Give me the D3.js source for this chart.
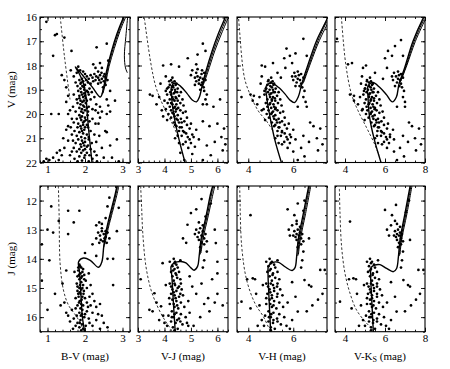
<!DOCTYPE html>
<html><head><meta charset="utf-8">
<script src="https://cdn.jsdelivr.net/npm/d3@7/dist/d3.min.js"></script>
<style>body{margin:0;background:#fff}svg{display:block}text{font-family:"Liberation Serif","DejaVu Serif",serif;fill:#000}</style>
</head><body>
<script>
// ---------- axis settings ----------
const colorDomains = [[0.8,3.2],[3,6.4],[3.5,7.5],[3.5,8]];
const colorTicks = [[1,2,3],[3,4,5,6],[4,6],[4,6,8]];
const colorMinorStep = [0.2,0.2,0.5,0.5];
const vDomain = [16,22], vTicks = [16,17,18,19,20,21,22];
const jDomain = [11.5,16.5], jTicks = [12,13,14,15,16];
const colorTitles = ["B-V (mag)","V-J (mag)","V-H (mag)","V-K_S (mag)"];
const magTitles = ["V (mag)","J (mag)"];

// ---------- top row: V vs colour ----------
const starsBV_V = [[0.97,16.2],[1.2,16.75],[1.25,16.7],[1.45,16.85],[1.15,17.6],[1.64,17.4],[2.31,17.25],[2.58,17.1],[2.62,17.8],[2.4,17.9],[2.22,17.95],[2.28,18.1],[2.35,18.25],[2.45,18.1],[1.82,18.05],[1.87,18.2],[1.95,18.25],[1.62,18.2],[1.38,18.4],[1.45,18.6],[1.5,18.9],[1.55,19.25],[1.5,19.5],[1.3,20.0],[1.1,20.0],[1.55,20.0],[1.6,19.85],[1.65,20.2],[1.55,20.5],[1.5,20.65],[1.42,21.0],[1.55,21.1],[1.45,21.4],[1.33,21.5],[1.25,21.6],[1.38,21.7],[1.15,21.8],[1.05,21.9],[0.97,21.85],[0.9,21.95],[1.3,21.9],
[2.67,19.05],[2.58,19.4],[2.8,19.45],[2.62,19.65],[2.45,19.9],[2.58,20.0],[2.67,19.9],[2.36,20.4],[2.54,20.7],[2.58,20.75],[2.85,21.05],[2.67,21.3],[2.45,21.4],[2.31,21.7],[2.5,21.8],[2.72,21.8],[2.9,21.95],[2.32,21.95],
[2.3,18.45],[2.35,18.5],[2.4,18.4],[2.45,18.55],[2.5,18.45],[2.55,18.5],[2.5,18.65],[2.42,18.7],[2.38,18.6],[2.55,18.8],[2.48,18.9],[2.52,18.35],[2.44,18.3],[2.6,18.6],[2.35,18.75],[2.28,18.6],[2.2,18.5],[2.25,18.35],[2.15,18.4],[2.1,18.55],[2.0,18.35],[2.05,18.45],
[1.85,18.6],[1.9,18.7],[1.95,18.65],[2.0,18.8],[2.08,18.7],[1.8,18.85],[1.88,18.95],[1.97,18.9],[2.12,18.95],[1.92,18.55],[2.15,18.75],[1.75,18.7],
[1.82,19.05],[1.9,19.1],[1.98,19.15],[2.05,19.05],[1.85,19.25],[1.95,19.3],[2.02,19.35],[2.1,19.2],[1.78,19.4],[1.88,19.45],[1.97,19.45],[2.15,19.4],[2.25,19.3],[1.7,19.2],
[1.8,19.55],[1.88,19.6],[1.95,19.65],[2.02,19.55],[2.1,19.7],[1.85,19.75],[1.92,19.8],[2.0,19.85],[2.08,19.9],[1.75,19.9],[1.95,19.95],[2.2,19.8],[2.3,19.6],[1.68,19.7],
[1.85,20.05],[1.92,20.1],[2.0,20.15],[2.07,20.05],[1.78,20.2],[1.9,20.25],[1.98,20.3],[2.12,20.3],[1.82,20.4],[1.95,20.45],[2.05,20.45],[2.2,20.2],[1.7,20.35],[2.28,20.4],
[1.8,20.55],[1.9,20.6],[1.98,20.65],[2.08,20.55],[1.72,20.7],[1.85,20.75],[1.95,20.8],[2.05,20.85],[2.15,20.7],[1.78,20.9],[1.9,20.95],[2.1,20.95],[2.25,20.85],[1.65,20.85],
[1.82,21.05],[1.92,21.1],[2.0,21.15],[2.1,21.05],[1.75,21.2],[1.88,21.25],[1.98,21.3],[2.08,21.3],[2.18,21.2],[1.7,21.4],[1.85,21.45],[2.0,21.45],[2.15,21.45],
[1.78,21.55],[1.9,21.6],[2.05,21.6],[2.12,21.7],[1.85,21.75],[1.98,21.8],[2.2,21.85],[1.72,21.85],[2.1,21.95],[1.6,21.7],[1.92,21.92],
[1.88,18.75],[1.93,18.85],[2.03,18.6],[1.98,19.0],[2.08,19.1],[1.92,19.2],[2.0,19.25],[1.85,19.35],[1.93,19.5],[2.05,19.45],[1.98,19.7],[1.9,19.9],[2.05,19.75],[1.88,20.15],[1.95,20.35],[2.02,20.25],[1.88,20.5],[2.0,20.55],[1.92,20.7],[2.0,21.0],[1.95,21.2],[1.9,21.35],[2.05,21.35],[1.95,21.5],[2.0,21.7],[1.8,21.95],[2.25,21.55],[2.3,21.15],[2.38,20.9],[2.4,20.15],[2.35,19.95],[1.62,20.55],[1.68,21.1],[1.65,21.55],[2.18,19.1],[2.22,18.65],[1.7,18.45],[1.78,18.3],[2.28,19.85],[2.4,19.7]];
const isoBV_V = [[2.19,22.05],[2.12,21.0],[2.06,20.0],[2.02,19.2],[1.95,18.7],[1.85,18.35],[1.74,18.06],[1.8,18.15],[2.0,18.52],[2.2,18.9],[2.41,19.3],[2.5,18.9],[2.57,18.26],[2.7,17.45],[2.85,16.7],[3.03,16.0],[3.06,15.9]];
const rgbBV_V = [[[2.45,19.2],[2.53,18.7],[2.61,18.1],[2.74,17.35],[2.9,16.6],[3.06,15.95]],[[2.48,19.15],[2.56,18.65],[2.64,18.05],[2.78,17.3],[2.94,16.55],[3.1,15.95]],[[3.14,15.95],[3.09,16.8],[3.05,17.6],[3.08,18.1],[3.13,18.3]]];
const dashBV_V = [[1.34,16.0],[1.45,17.6],[1.6,19.4]];

const starsVJ_V = [[3.95,18.0],[4.25,17.95],[4.55,18.05],[4.88,17.7],[5.25,17.55],[5.45,17.1],[5.55,17.4],[5.2,17.95],[5.05,18.2],[5.0,18.4],[5.15,18.5],
[5.2,18.3],[5.25,18.45],[5.3,18.6],[5.35,18.5],[5.4,18.35],[5.45,18.55],[5.3,18.75],[5.38,18.8],[5.42,18.7],[5.48,18.9],[5.5,19.05],[5.35,19.0],[5.2,18.65],[5.15,18.8],[5.55,18.6],[5.5,18.3],[5.6,19.2],[5.55,19.4],[5.45,19.6],[5.25,18.15],[5.42,18.2],
[4.25,18.6],[4.3,18.7],[4.38,18.65],[4.2,18.8],[4.32,18.85],[4.42,18.8],[4.15,18.9],[4.28,19.0],[4.4,19.0],[4.5,18.95],[4.22,19.1],[4.35,19.15],[4.48,19.1],[4.1,19.2],[4.3,19.3],[4.42,19.3],[4.55,19.25],[4.2,19.4],[4.38,19.45],[4.5,19.45],[4.12,19.55],[4.3,19.6],[4.45,19.6],[4.6,19.55],[4.2,19.7],[4.35,19.75],[4.52,19.75],[4.05,19.8],[4.25,19.85],[4.42,19.9],[4.6,19.85],[4.15,20.0],[4.35,20.0],[4.5,20.05],[4.7,19.95],[4.25,20.15],[4.45,20.2],[4.62,20.2],[4.1,20.25],[4.35,20.35],[4.55,20.35],[4.75,20.3],[4.45,20.5],[4.65,20.55],[4.85,20.45],[4.55,20.7],[4.75,20.75],[4.95,20.6],[4.65,20.9],[4.88,20.95],[5.05,20.85],[4.8,21.15],[5.0,21.2],[4.9,21.4],[5.15,21.35],[4.6,21.6],[5.05,21.65],[4.75,21.9],[5.45,21.9],
[3.45,19.2],[3.55,19.25],[3.8,19.3],[3.7,19.6],[3.9,19.85],[3.95,20.1],[4.0,19.45],[3.85,18.75],[4.05,18.45],
[5.6,19.6],[5.85,19.7],[6.1,19.4],[5.7,20.5],[6.0,20.4],[6.25,20.6],[5.2,20.65],[5.45,20.3],[6.15,20.95],[5.9,21.15],[6.3,21.25],[5.6,21.3],[6.2,21.5],[5.75,21.7],
[4.33,18.9],[4.45,18.75],[4.25,19.2],[4.4,19.1],[4.33,19.4],[4.45,19.35],[4.25,19.55],[4.4,19.7],[4.3,19.95],[4.45,19.8],[4.38,20.1],[4.5,20.25],[4.4,20.45],[4.58,20.55],[4.65,20.35],[4.7,20.7],[4.5,20.9],[4.82,20.8],[4.7,21.25],[4.95,21.05],[4.3,18.5],[4.18,18.65],[4.1,18.95],[4.05,19.05],[4.62,19.1],[4.68,19.4],[4.72,19.65],[4.8,19.9],[4.85,20.15],[5.0,20.4],[5.1,20.95],[5.3,21.05],[4.4,21.0],[4.55,21.2]];
const isoVJ_V = [[4.79,22.05],[4.56,21.1],[4.37,20.14],[4.27,19.3],[4.27,18.85],[4.4,18.72],[4.6,18.85],[4.85,19.15],[5.05,19.42],[5.21,19.5],[5.32,19.3],[5.4,18.95],[5.55,18.3],[5.8,17.4],[6.03,16.7],[6.28,16.05],[6.32,15.9]];
const rgbVJ_V = [[[5.42,18.9],[5.59,18.3],[5.85,17.4],[6.09,16.7],[6.34,16.05]],[[5.45,18.85],[5.63,18.3],[5.9,17.4],[6.15,16.7],[6.4,16.05]]];
const dashVJ_V = [[3.24,16.05],[3.49,17.94],[3.68,18.9],[3.93,19.6],[4.31,20.43],[4.5,20.9]];

const starsVH_V = [[4.6,18.0],[4.75,18.05],[5.1,17.9],[5.3,18.3],[5.6,17.7],[5.7,17.3],[5.85,17.6],[5.95,17.9],[6.1,17.5],[6.45,16.9],[6.6,17.6],[5.65,18.1],[5.45,18.5],
[6.05,18.3],[6.1,18.45],[6.2,18.55],[6.25,18.4],[6.3,18.6],[6.15,18.7],[6.35,18.75],[6.4,18.9],[6.28,18.85],[6.45,18.5],[6.0,18.6],[6.5,19.05],[6.45,19.3],[6.55,19.5],[6.2,18.25],[6.35,18.35],[5.95,18.45],[6.1,18.85],
[4.9,18.6],[5.0,18.7],[5.08,18.65],[4.85,18.8],[4.98,18.85],[5.12,18.8],[4.8,18.95],[4.95,19.0],[5.1,19.0],[5.22,18.95],[4.88,19.1],[5.02,19.15],[5.18,19.1],[4.72,19.2],[4.97,19.3],[5.1,19.3],[5.28,19.25],[4.85,19.4],[5.05,19.45],[5.2,19.45],[4.78,19.55],[4.95,19.6],[5.12,19.6],[5.32,19.55],[4.85,19.7],[5.02,19.75],[5.22,19.75],[4.68,19.8],[4.9,19.85],[5.1,19.9],[5.3,19.85],[4.82,20.0],[5.02,20.0],[5.2,20.05],[5.42,19.95],[4.92,20.15],[5.15,20.2],[5.35,20.2],[4.75,20.25],[5.05,20.35],[5.28,20.35],[5.5,20.3],[5.15,20.5],[5.38,20.55],[5.62,20.45],[5.3,20.7],[5.5,20.75],[5.72,20.6],[5.45,20.9],[5.7,20.95],[5.85,20.85],[5.6,21.15],[5.85,21.2],[5.75,21.4],
[4.1,19.2],[4.25,19.25],[4.5,19.3],[4.4,19.6],[4.6,19.85],[4.2,19.45],[4.55,18.75],[4.6,18.45],[3.7,19.3],
[6.2,19.7],[6.6,19.7],[6.75,20.35],[6.9,20.5],[7.2,20.6],[6.0,20.65],[6.45,20.9],[7.05,21.0],[6.7,21.15],[7.3,21.25],[6.35,21.4],[7.1,21.5],[6.5,21.75],[6.2,21.9],[6.0,21.55],
[5.05,18.9],[5.15,18.75],[4.95,19.2],[5.12,19.1],[5.05,19.4],[5.18,19.35],[4.98,19.55],[5.15,19.7],[5.05,19.95],[5.2,19.8],[5.12,20.1],[5.25,20.25],[5.2,20.45],[5.35,20.55],[5.4,20.35],[5.5,20.7],[5.3,20.9],[5.62,20.8],[5.5,21.25],[5.75,21.05],[5.02,18.5],[4.88,18.65],[4.78,18.95],[4.72,19.05],[5.35,19.1],[5.42,19.4],[5.48,19.65],[5.55,19.9],[5.62,20.15],[5.8,20.4],[5.9,20.95],[6.1,21.05],[5.2,21.0],[5.35,21.2]];
const isoVH_V = [[5.49,22.05],[5.19,21.1],[4.97,20.14],[4.82,19.3],[4.8,18.85],[5.04,18.72],[5.34,18.9],[5.63,19.17],[5.85,19.42],[6.05,19.53],[6.22,19.3],[6.38,18.76],[6.67,17.93],[7.04,16.97],[7.4,16.28],[7.55,16.0]];
const rgbVH_V = [[[6.42,18.76],[6.72,17.93],[7.1,16.97],[7.48,16.2]],[[6.46,18.7],[6.77,17.9],[7.16,16.97],[7.54,16.25]]];
const dashVH_V = [[3.56,15.9],[3.6,16.4],[3.83,18.5],[4.08,19.19],[4.45,19.88],[4.82,20.3],[5.1,20.7]];

const starsVK_V = [[4.15,17.95],[4.9,18.1],[5.05,18.0],[5.5,18.3],[6.0,17.7],[6.15,17.4],[6.35,17.6],[6.5,17.2],[6.8,16.95],[6.9,17.6],[6.1,18.1],[5.9,18.55],[4.35,17.9],[3.6,16.9],
[6.45,18.3],[6.55,18.45],[6.65,18.55],[6.7,18.4],[6.75,18.6],[6.6,18.7],[6.8,18.75],[6.85,18.9],[6.72,18.85],[6.9,18.5],[6.4,18.6],[6.95,19.05],[6.9,19.3],[7.0,19.5],[6.65,18.25],[6.8,18.35],[6.35,18.45],[6.5,18.85],
[5.1,18.6],[5.2,18.7],[5.3,18.65],[5.05,18.8],[5.2,18.85],[5.35,18.8],[5.0,18.95],[5.15,19.0],[5.32,19.0],[5.45,18.95],[5.08,19.1],[5.25,19.15],[5.42,19.1],[4.92,19.2],[5.2,19.3],[5.35,19.3],[5.55,19.25],[5.05,19.4],[5.28,19.45],[5.45,19.45],[4.98,19.55],[5.18,19.6],[5.38,19.6],[5.6,19.55],[5.08,19.7],[5.28,19.75],[5.5,19.75],[4.88,19.8],[5.12,19.85],[5.35,19.9],[5.58,19.85],[5.05,20.0],[5.28,20.0],[5.48,20.05],[5.72,19.95],[5.18,20.15],[5.42,20.2],[5.65,20.2],[4.98,20.25],[5.32,20.35],[5.58,20.35],[5.82,20.3],[5.45,20.5],[5.7,20.55],[5.95,20.45],[5.62,20.7],[5.85,20.75],[6.1,20.6],[5.8,20.9],[6.05,20.95],[6.25,20.85],[5.95,21.15],[6.2,21.2],[6.1,21.4],
[4.25,19.2],[4.45,19.25],[4.75,19.3],[4.65,19.6],[4.85,19.85],[4.45,19.45],[4.8,18.75],[4.85,18.45],
[6.6,19.7],[7.0,19.7],[7.2,20.35],[7.35,20.5],[7.7,20.6],[6.4,20.65],[6.9,20.9],[7.5,21.0],[7.15,21.15],[7.8,21.25],[6.75,21.4],[7.55,21.5],[6.95,21.75],[6.6,21.9],[6.45,21.55],
[5.28,18.9],[5.4,18.75],[5.2,19.2],[5.38,19.1],[5.3,19.4],[5.45,19.35],[5.22,19.55],[5.42,19.7],[5.3,19.95],[5.48,19.8],[5.38,20.1],[5.55,20.25],[5.5,20.45],[5.65,20.55],[5.7,20.35],[5.8,20.7],[5.6,20.9],[5.95,20.8],[5.85,21.25],[6.1,21.05],[5.25,18.5],[5.1,18.65],[5.0,18.95],[4.95,19.05],[5.65,19.1],[5.72,19.4],[5.78,19.65],[5.88,19.9],[5.95,20.15],[6.15,20.4],[6.25,20.95],[6.45,21.05],[5.5,21.0],[5.65,21.2]];
const isoVK_V = [[5.82,22.05],[5.48,21.1],[5.23,20.14],[5.15,19.3],[5.15,18.85],[5.4,18.7],[5.73,18.9],[6.07,19.2],[6.37,19.5],[6.57,19.3],[6.7,18.76],[6.98,18.1],[7.4,17.0],[7.88,16.1],[7.98,15.95]];
const rgbVK_V = [[[6.75,18.7],[7.04,18.05],[7.46,17.0],[7.94,16.1]],[[6.79,18.65],[7.09,18.0],[7.52,17.0],[8.0,16.12]]];
const dashVK_V = [[3.82,16.0],[4.03,17.9],[4.32,19.17],[4.65,19.86],[5.07,20.55],[5.48,21.24],[5.7,21.7]];

// ---------- bottom row: J vs colour ----------
const starsBV_J = [[1.1,12.2],[1.55,12.35],[1.3,12.7],[1.0,13.0],[1.15,13.1],[1.7,12.75],[0.85,13.5],[1.05,14.05],[1.55,13.15],[1.85,12.35],[2.0,13.8],[2.3,13.9],[2.2,13.5],[2.3,12.85],[2.38,12.75],[2.45,12.8],[2.55,12.6],[2.6,12.2],[2.65,11.9],[2.9,12.25],[2.85,13.05],[2.65,13.3],[2.75,14.0],[2.75,14.9],[2.6,14.0],
[2.35,13.1],[2.4,13.2],[2.45,13.05],[2.5,13.15],[2.55,13.25],[2.42,13.35],[2.48,13.4],[2.55,13.05],[2.38,13.45],[2.3,13.3],[2.6,13.1],[2.52,13.3],[2.45,12.95],[2.58,13.45],
[1.85,14.2],[1.9,14.3],[1.82,14.4],[1.95,14.35],[1.88,14.5],[1.8,14.6],[1.92,14.6],[1.98,14.55],[1.85,14.7],[1.9,14.8],[1.78,14.85],[1.95,14.9],[2.02,14.75],[1.85,15.0],[1.9,15.05],[1.8,15.1],[1.97,15.1],[2.05,15.0],[1.88,15.2],[1.83,15.3],[1.93,15.3],[2.0,15.35],[1.86,15.45],[1.9,15.55],[1.8,15.6],[1.95,15.6],[2.05,15.5],[1.88,15.7],[1.85,15.85],[1.92,15.9],[1.78,15.95],[1.98,16.0],[1.88,16.1],[1.92,16.25],[1.85,16.35],[1.95,16.4],
[2.1,14.5],[2.15,14.9],[2.2,15.2],[2.25,15.45],[2.15,15.6],[2.3,15.65],[2.4,15.55],[2.2,15.85],[2.35,15.9],[2.45,15.95],[2.1,16.05],[2.3,16.1],[2.5,16.2],[2.2,16.3],[2.6,16.35],[2.05,15.8],[2.12,16.2],[2.4,16.4],
[1.2,15.2],[1.0,15.75],[1.35,15.6],[1.45,15.5],[1.5,15.85],[1.55,15.95],[1.65,15.75],[1.6,16.15],[1.7,16.05],[1.75,16.3],[1.68,16.4],[1.4,14.85],[1.5,14.4],[1.72,14.45],[1.75,15.35],[0.85,14.75],
[1.87,14.25],[1.93,14.45],[1.84,14.55],[1.9,14.65],[1.87,14.9],[1.93,15.0],[1.86,15.15],[1.91,15.4],[1.84,15.5],[1.93,15.75],[1.89,15.95],[1.86,16.2],[1.9,16.45],[1.82,15.2],[1.96,15.2],[1.8,14.95],[1.98,14.7],[1.82,14.3],[2.0,15.9],[2.02,16.3],[1.8,16.2],[1.75,15.7],[2.08,15.65],[2.12,15.3]];
const isoBV_J = [[2.0,16.55],[1.93,16.0],[1.89,15.2],[1.85,14.4],[1.83,14.1],[1.96,13.97],[2.14,14.05],[2.36,14.29],[2.45,14.1],[2.5,13.58],[2.57,13.01],[2.63,12.67],[2.81,11.75],[2.86,11.45]];
const rgbBV_J = [[[2.5,13.6],[2.59,13.0],[2.66,12.65],[2.83,11.75],[2.88,11.45]],[[2.53,13.5],[2.62,12.95],[2.69,12.6],[2.86,11.75],[2.91,11.45]]];
const dashBV_J = [[1.29,11.5],[1.31,12.5],[1.336,14.15],[1.425,15.07],[1.56,15.59],[1.78,15.99],[1.92,16.33],[1.98,16.5]];

const starsVJ_J = [[4.87,12.83],[5.0,12.43],[5.2,12.3],[5.94,13.46],[4.7,13.3],[4.82,13.45],[5.75,12.1],[5.55,12.55],[5.9,13.0],[5.4,11.95],[6.0,14.1],
[5.2,13.0],[5.3,13.1],[5.35,12.95],[5.4,13.2],[5.45,13.05],[5.5,13.3],[5.3,13.35],[5.4,13.45],[5.55,13.15],[5.25,13.25],[5.45,12.85],[5.5,13.5],[5.35,13.6],[5.6,13.4],[5.15,13.15],[5.6,13.75],[5.5,14.05],[5.45,14.3],[5.3,12.75],
[4.35,14.0],[4.4,14.1],[4.45,14.2],[4.3,14.25],[4.5,14.3],[4.38,14.35],[4.25,14.45],[4.42,14.5],[4.55,14.45],[4.3,14.6],[4.48,14.65],[4.35,14.75],[4.6,14.7],[4.2,14.85],[4.4,14.9],[4.55,14.95],[4.3,15.05],[4.45,15.1],[4.65,15.05],[4.25,15.2],[4.38,15.25],[4.55,15.3],[4.7,15.25],[4.3,15.4],[4.45,15.45],[4.62,15.5],[4.2,15.55],[4.38,15.65],[4.52,15.7],[4.75,15.65],[4.28,15.8],[4.45,15.85],[4.62,15.9],[4.15,15.95],[4.35,16.0],[4.55,16.05],[4.8,16.0],[4.25,16.15],[4.42,16.2],[4.68,16.25],[4.32,16.35],[4.5,16.4],[4.9,16.3],[4.1,16.3],[4.6,14.05],[4.2,14.1],
[3.43,15.75],[3.62,15.18],[3.87,15.63],[3.93,14.15],[3.7,15.5],[3.95,15.95],[4.0,16.2],[3.8,16.1],[3.55,15.8],[3.1,14.7],[4.05,14.9],
[4.95,14.6],[5.05,14.95],[5.4,14.85],[5.8,14.7],[6.0,14.5],[6.0,15.2],[5.65,15.35],[5.5,15.55],[5.35,16.0],[5.7,15.8],[4.95,15.85],[4.85,16.2],[5.1,16.3],[5.9,15.5],[6.2,15.6],[5.2,15.2],[4.9,15.45],
[4.38,14.15],[4.33,14.4],[4.45,14.55],[4.38,14.85],[4.5,15.0],[4.35,15.15],[4.42,15.35],[4.35,15.55],[4.48,15.6],[4.38,15.9],[4.48,16.1],[4.38,16.45],[4.28,16.0],[4.6,15.2],[4.62,14.85],[4.25,14.95],[4.18,15.35],[4.6,16.15]];
const isoVJ_J = [[4.41,16.55],[4.33,15.4],[4.28,14.6],[4.25,14.26],[4.37,14.14],[4.62,14.09],[4.81,14.14],[5.0,14.31],[5.12,14.39],[5.25,14.26],[5.31,13.91],[5.38,13.34],[5.57,12.54],[5.75,11.74],[5.84,11.45]];
const rgbVJ_J = [[[5.35,13.85],[5.42,13.3],[5.62,12.5],[5.8,11.7],[5.88,11.45]],[[5.38,13.8],[5.46,13.3],[5.66,12.5],[5.85,11.7],[5.92,11.45]]];
const dashVJ_J = [[3.1,11.5],[3.14,12.3],[3.18,13.11],[3.3,14.26],[3.49,15.06],[3.68,15.52],[3.93,15.98],[4.18,16.33],[4.3,16.5]];

const starsVH_J = [[4.1,12.5],[5.75,12.3],[6.05,12.5],[6.15,12.7],[5.95,12.85],[5.8,13.0],[6.7,13.3],[6.45,12.35],[6.2,12.1],[5.85,13.2],[6.5,12.0],
[6.05,13.05],[6.15,13.15],[6.2,13.0],[6.25,13.2],[6.3,13.1],[6.35,13.3],[6.15,13.35],[6.25,13.45],[6.4,13.15],[6.1,13.25],[6.3,12.9],[6.35,13.5],[6.2,13.6],[6.45,13.4],[6.0,13.2],[6.45,13.75],[6.4,14.05],[6.35,14.3],[6.15,12.8],
[4.95,14.0],[5.05,14.1],[5.15,14.2],[4.9,14.25],[5.2,14.3],[5.0,14.35],[4.85,14.45],[5.1,14.5],[5.3,14.45],[4.95,14.6],[5.2,14.65],[5.05,14.75],[5.38,14.7],[4.8,14.85],[5.1,14.9],[5.28,14.95],[4.95,15.05],[5.15,15.1],[5.42,15.05],[4.85,15.2],[5.05,15.25],[5.28,15.3],[5.52,15.25],[4.95,15.4],[5.15,15.45],[5.38,15.5],[4.8,15.55],[5.05,15.65],[5.25,15.7],[5.55,15.65],[4.9,15.8],[5.12,15.85],[5.38,15.9],[4.75,15.95],[5.0,16.0],[5.28,16.05],[5.6,16.0],[4.9,16.15],[5.1,16.2],[5.45,16.25],[5.0,16.35],[5.18,16.4],[5.7,16.3],[4.7,16.3],[5.3,14.05],[4.8,14.1],
[3.7,15.47],[4.2,14.67],[4.3,14.7],[4.1,15.7],[4.5,15.6],[4.6,16.1],[4.42,16.3],[4.35,15.2],[3.95,14.7],[4.65,14.9],
[6.1,15.3],[6.5,14.73],[6.7,14.9],[7.2,14.38],[7.4,14.38],[6.8,14.95],[7.1,15.4],[7.3,15.2],[6.2,15.81],[6.6,15.8],[5.95,16.1],[5.85,16.4],[6.85,15.6],[5.95,14.8],[5.75,15.5],
[5.0,14.15],[4.95,14.4],[5.08,14.55],[5.0,14.85],[5.15,15.0],[4.98,15.15],[5.05,15.35],[4.98,15.55],[5.12,15.6],[5.02,15.9],[5.12,16.1],[5.0,16.45],[4.92,16.0],[5.3,15.2],[5.3,14.85],[4.88,14.95],[4.8,15.35],[5.3,16.15]];
const isoVH_J = [[5.0,16.55],[4.92,15.3],[4.88,14.5],[4.9,14.25],[5.1,14.12],[5.35,14.12],[5.65,14.28],[5.95,14.4],[6.08,14.3],[6.15,13.93],[6.22,13.35],[6.45,12.44],[6.7,11.45]];
const rgbVH_J = [[[6.2,13.9],[6.27,13.35],[6.5,12.44],[6.74,11.45]],[[6.23,13.85],[6.31,13.35],[6.55,12.44],[6.79,11.45]]];
const dashVH_J = [[3.62,11.5],[3.63,11.87],[3.71,13.58],[3.93,14.73],[4.3,15.53],[4.67,15.98],[4.89,16.33],[5.0,16.5]];

const starsVK_J = [[4.25,12.72],[6.0,12.32],[6.35,12.5],[6.5,12.7],[6.3,12.85],[6.1,13.0],[7.25,13.35],[7.05,12.4],[6.55,12.15],[6.2,13.2],[7.2,12.0],
[6.5,13.05],[6.6,13.15],[6.65,13.0],[6.7,13.2],[6.75,13.1],[6.8,13.3],[6.6,13.35],[6.7,13.45],[6.85,13.15],[6.55,13.25],[6.75,12.9],[6.8,13.5],[6.65,13.6],[6.9,13.4],[6.45,13.2],[6.9,13.75],[6.85,14.05],[6.8,14.3],[6.6,12.8],
[5.25,14.0],[5.35,14.1],[5.45,14.2],[5.2,14.25],[5.5,14.3],[5.3,14.35],[5.15,14.45],[5.4,14.5],[5.6,14.45],[5.25,14.6],[5.5,14.65],[5.35,14.75],[5.7,14.7],[5.1,14.85],[5.4,14.9],[5.6,14.95],[5.25,15.05],[5.45,15.1],[5.75,15.05],[5.15,15.2],[5.35,15.25],[5.6,15.3],[5.85,15.25],[5.25,15.4],[5.45,15.45],[5.7,15.5],[5.1,15.55],[5.35,15.65],[5.55,15.7],[5.9,15.65],[5.2,15.8],[5.45,15.85],[5.7,15.9],[5.05,15.95],[5.3,16.0],[5.6,16.05],[5.95,16.0],[5.2,16.15],[5.4,16.2],[5.8,16.25],[5.3,16.35],[5.5,16.4],[6.05,16.3],[5.0,16.3],[5.65,14.05],[5.1,14.1],
[3.75,15.47],[4.42,14.67],[4.55,14.7],[4.33,15.7],[4.8,15.6],[4.9,16.1],[4.7,16.3],[4.6,15.2],[4.2,14.7],[4.95,14.9],
[6.5,15.3],[6.92,14.73],[7.15,14.9],[7.67,14.38],[7.92,14.38],[7.25,14.95],[7.55,15.4],[7.75,15.2],[6.58,15.81],[7.0,15.8],[6.3,16.1],[6.2,16.4],[7.3,15.6],[6.3,14.8],[6.1,15.5],
[5.3,14.15],[5.25,14.4],[5.38,14.55],[5.3,14.85],[5.45,15.0],[5.28,15.15],[5.35,15.35],[5.28,15.55],[5.42,15.6],[5.32,15.9],[5.42,16.1],[5.3,16.45],[5.22,16.0],[5.6,15.2],[5.6,14.85],[5.18,14.95],[5.1,15.35],[5.6,16.15]];
const isoVK_J = [[5.42,16.55],[5.33,15.3],[5.28,14.5],[5.3,14.3],[5.5,14.21],[5.75,14.2],[6.08,14.33],[6.42,14.44],[6.58,14.33],[6.67,13.93],[6.75,13.35],[7.0,12.44],[7.27,11.45]];
const rgbVK_J = [[[6.72,13.9],[6.79,13.35],[7.05,12.44],[7.31,11.45]],[[6.75,13.85],[6.83,13.35],[7.1,12.44],[7.36,11.45]]];
const dashVK_J = [[3.72,11.6],[3.75,12.44],[3.83,13.58],[4.0,14.5],[4.25,15.18],[4.58,15.76],[5.08,16.21],[5.33,16.38],[5.45,16.5]];

// ---------- layout ----------
const W = 450, H = 369;
const panelLeft = [40,138,237,335], panelW = 90;
const rowTop = [17,186], rowBottom = [162.5,331.7];

const svg = d3.select("body").append("svg").attr("width",W).attr("height",H);
const defs = svg.append("defs");

const topPanels = [
  {stars:starsBV_V, iso:isoBV_V, rgb:rgbBV_V, dash:dashBV_V},
  {stars:starsVJ_V, iso:isoVJ_V, rgb:rgbVJ_V, dash:dashVJ_V},
  {stars:starsVH_V, iso:isoVH_V, rgb:rgbVH_V, dash:dashVH_V},
  {stars:starsVK_V, iso:isoVK_V, rgb:rgbVK_V, dash:dashVK_V}];
const bottomPanels = [
  {stars:starsBV_J, iso:isoBV_J, rgb:rgbBV_J, dash:dashBV_J},
  {stars:starsVJ_J, iso:isoVJ_J, rgb:rgbVJ_J, dash:dashVJ_J},
  {stars:starsVH_J, iso:isoVH_J, rgb:rgbVH_J, dash:dashVH_J},
  {stars:starsVK_J, iso:isoVK_J, rgb:rgbVK_J, dash:dashVK_J}];

function range(a,b,s){const o=[];for(let v=a;v<=b+1e-9;v+=s)o.push(+v.toFixed(4));return o;}
const fmt = d3.format("d");

function drawPanel(row,col,d){
  const x = d3.scaleLinear().domain(colorDomains[col]).range([panelLeft[col],panelLeft[col]+panelW]);
  const yDom = row===0?vDomain:jDomain;
  const y = d3.scaleLinear().domain(yDom).range([rowTop[row],rowBottom[row]]);
  const g = svg.append("g");
  const id = "clip"+row+col;
  defs.append("clipPath").attr("id",id).append("rect")
    .attr("x",x.range()[0]).attr("y",y.range()[0]).attr("width",panelW).attr("height",y.range()[1]-y.range()[0]);
  const pg = g.append("g").attr("clip-path","url(#"+id+")");
  const line = d3.line().x(p=>x(p[0])).y(p=>y(p[1])).curve(d3.curveCatmullRom.alpha(0.5));
  pg.append("path").attr("d",line(d.dash)).attr("fill","none").attr("stroke","#000").attr("stroke-width",0.8).attr("stroke-dasharray","2.5,2");
  pg.append("path").attr("d",line(d.iso)).attr("fill","none").attr("stroke","#000").attr("stroke-width",1.4);
  d.rgb.forEach(r=>pg.append("path").attr("d",line(r)).attr("fill","none").attr("stroke","#000").attr("stroke-width",1.0));
  pg.selectAll("circle.s").data(d.stars).join("circle").attr("class","s")
    .attr("cx",p=>x(p[0])).attr("cy",p=>y(p[1])).attr("r",1.35).attr("fill","#000");

  const xd = colorDomains[col];
  const st = colorMinorStep[col];
  const xMinor = range(Math.ceil(xd[0]/st-1e-9)*st, xd[1], st);
  const xMajor = colorTicks[col];
  const yMajor = row===0?vTicks:jTicks;
  const yMinor = range(Math.ceil(yDom[0]*2)/2, yDom[1], 0.5);
  const y0 = y.range()[0], y1 = y.range()[1], x0 = x.range()[0], x1 = x.range()[1];
  const mk = (axis,tv,size,pos,label)=>{
    const a = axis.tickValues(tv).tickSize(size).tickPadding(3);
    a.tickFormat(label?fmt:"");
    const gg = g.append("g").attr("transform",pos).call(a);
    gg.select(".domain").remove();
    gg.selectAll("line").attr("stroke","#000").attr("stroke-width",0.9);
    gg.selectAll("text").attr("font-size",11).style("font-family",'"Liberation Serif",serif').attr("fill","#000");
    return gg;
  };
  mk(d3.axisBottom(x),xMinor,-2,`translate(0,${y1})`,false);
  mk(d3.axisTop(x),xMinor,-2,`translate(0,${y0})`,false);
  mk(d3.axisBottom(x),xMajor,-4,`translate(0,${y1})`,true);
  mk(d3.axisTop(x),xMajor,-4,`translate(0,${y0})`,false);
  mk(d3.axisLeft(y),yMinor,-2,`translate(${x0},0)`,false);
  mk(d3.axisRight(y),yMinor,-2,`translate(${x1},0)`,false);
  mk(d3.axisLeft(y),yMajor,-4,`translate(${x0},0)`,col===0);
  mk(d3.axisRight(y),yMajor,-4,`translate(${x1},0)`,false);
  g.append("rect").attr("x",x0).attr("y",y0).attr("width",panelW).attr("height",y1-y0)
    .attr("fill","none").attr("stroke","#000").attr("stroke-width",1.1);

  if(row===1){
    const t = g.append("text").attr("x",(x0+x1)/2).attr("y",360).attr("text-anchor","middle").attr("font-size",11);
    const parts = colorTitles[col].split("_");
    if(parts.length===1) t.text(parts[0]);
    else {
      const [pre,rest] = parts;
      t.append("tspan").text(pre);
      t.append("tspan").attr("font-size",8).attr("dy",2).text(rest[0]);
      t.append("tspan").attr("dy",-2).text(rest.slice(1));
    }
  }
  if(col===0){
    g.append("text").attr("transform",`translate(15,${(y0+y1)/2}) rotate(-90)`)
      .attr("text-anchor","middle").attr("font-size",11).text(magTitles[row]);
  }
}
topPanels.forEach((d,i)=>drawPanel(0,i,d));
bottomPanels.forEach((d,i)=>drawPanel(1,i,d));
</script>
</body></html>
